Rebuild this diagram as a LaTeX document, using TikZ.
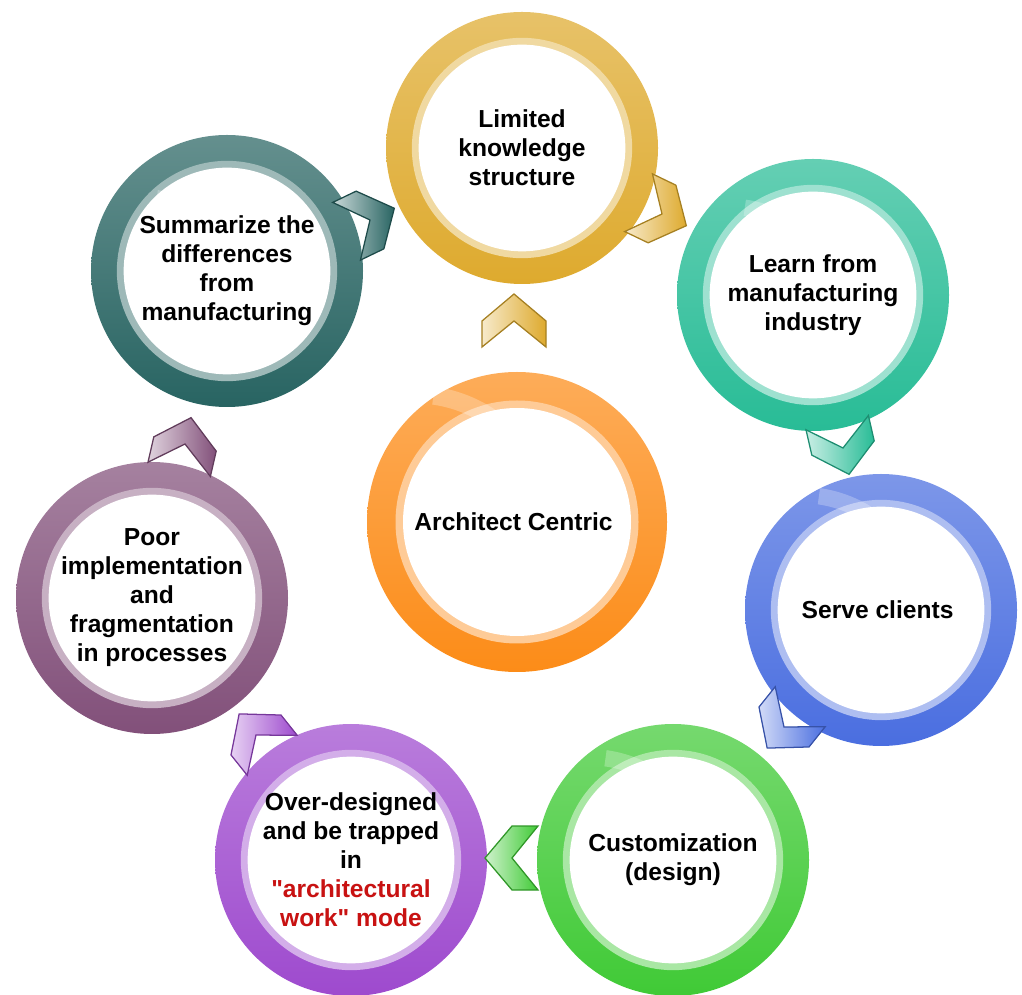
\documentclass[tikz,border=0pt]{standalone}
\usepackage{fontspec}
\setmainfont{Liberation Sans}[Ligatures=TeXOff]
\usepackage{xcolor}

\definecolor{ringgold}{RGB}{222,170,46}
\definecolor{ringteal}{RGB}{40,188,150}
\definecolor{ringblue}{RGB}{74,110,224}
\definecolor{ringgreen}{RGB}{64,202,54}
\definecolor{ringpurple}{RGB}{158,74,206}
\definecolor{ringmauve}{RGB}{130,80,122}
\definecolor{ringdarkteal}{RGB}{40,100,98}
\definecolor{ringorange}{RGB}{252,140,24}
\definecolor{modered}{RGB}{200,18,18}

\begin{document}
\begin{tikzpicture}[every node/.style={
    circle,
    inner sep=0pt,
    align=center,
    font=\bfseries\fontsize{17.5}{20.6}\selectfont
},
ring/.style 2 args={
    minimum size={2*#2cm},
    top color=#1!72!white,
    bottom color=#1,
    path picture={
        \fill[#1!45!white] (path picture bounding box.center) circle ({0.81*#2});
        \fill[white] (path picture bounding box.center) circle ({0.76*#2});
        \fill[white, opacity=0.25, shift={(path picture bounding box.center)}]
            (38:{0.85*#2}) arc[start angle=38, end angle=82, radius={0.85*#2}]
            -- (82:{0.97*#2}) arc[start angle=82, end angle=38, radius={0.97*#2}] -- cycle;
        \fill[white, opacity=0.2, shift={(path picture bounding box.center)}]
            (150:{0.85*#2}) arc[start angle=150, end angle=172, radius={0.85*#2}]
            -- (172:{0.97*#2}) arc[start angle=172, end angle=150, radius={0.97*#2}] -- cycle;
    }
},
chevron/.pic={
    \path[draw=#1!75!black, line width=0.9pt, line join=miter, left color=#1!25!white, right color=#1]
        (-0.8,0) -- (0,0.675) -- (0.8,0) -- (0.8,-0.65) -- (0,0) -- (-0.8,-0.65) -- cycle;
}]

\useasboundingbox (0,0) rectangle (25.55,24.85);



    \node (limited_knowledge) [ring={ringgold}{3.4}] at (13.05, 21.15)
    {
        Limited\\knowledge\\structure
    };

    \node (learn_manufacturing) [ring={ringteal}{3.4}] at (20.325, 17.475)
    {
        Learn from\\manufacturing\\industry
    };

    \node (serve_clients) [ring={ringblue}{3.4}] at (22.025, 9.6)
    {
        Serve clients
    };

    \node (customization) [ring={ringgreen}{3.4}] at (16.825, 3.35)
    {
        Customization\\(design)
    };

    \node (over_designed) [ring={ringpurple}{3.4}] at (8.775, 3.35)
    {
        Over-designed\\and be trapped\\in\\\textcolor{modered}{"architectural}\\\textcolor{modered}{work" mode}
    };

    \node (poor_implementation) [ring={ringmauve}{3.4}] at (3.8, 9.9)
    {
        Poor\\implementation\\and\\fragmentation\\in processes
    };

    \node (summarize_differences) [ring={ringdarkteal}{3.4}] at (5.675, 18.075)
    {
        Summarize the\\differences\\from\\manufacturing
    };

    \node (architect_centric) [ring={ringorange}{3.75}] at (12.925, 11.8)
    {
        Architect Centric
    };



    \pic[rotate=-115.7] at (16.55, 19.5) {chevron=ringgold};
    \pic[rotate=-167.1] at (21.075, 13.65) {chevron=ringteal};
    \pic[rotate=141.4] at (19.6, 6.675) {chevron=ringblue};
    \pic[rotate=90] at (12.8, 3.4) {chevron=ringgreen};
    \pic[rotate=38.6] at (6.4, 6.475) {chevron=ringpurple};
    \pic[rotate=-12.9] at (4.625, 13.75) {chevron=ringmauve};
    \pic[rotate=-64.3] at (9.25, 19.35) {chevron=ringdarkteal};
    \pic at (12.85, 16.825) {chevron=ringgold};


\end{tikzpicture}
\end{document}
